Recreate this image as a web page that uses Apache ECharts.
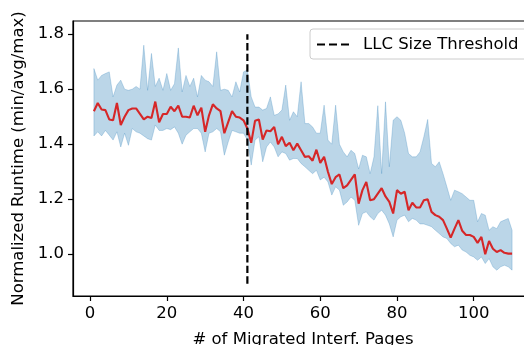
<!DOCTYPE html>
<html>
<head>
<meta charset="utf-8">
<script src="https://cdn.jsdelivr.net/npm/echarts@6/dist/echarts.min.js"></script>
<style>html,body{margin:0;padding:0;background:#fff}#c{width:524px;height:345px}</style>
</head>
<body>
<div id="c"></div>
<script>
const pages = [1,2,3,4,5,6,7,8,9,10,11,12,13,14,15,16,17,18,19,20,21,22,23,24,25,26,27,28,29,30,31,32,33,34,35,36,37,38,39,40,41,42,43,44,45,46,47,48,49,50,51,52,53,54,55,56,57,58,59,60,61,62,63,64,65,66,67,68,69,70,71,72,73,74,75,76,77,78,79,80,81,82,83,84,85,86,87,88,89,90,91,92,93,94,95,96,97,98,99,100,101,102,103,104,105,106,107,108,109,110];
const avgRuntime = [1.52,1.55,1.526,1.524,1.49,1.487,1.55,1.47,1.50,1.524,1.53,1.53,1.51,1.49,1.50,1.495,1.555,1.48,1.51,1.51,1.536,1.52,1.54,1.50,1.50,1.497,1.54,1.505,1.533,1.445,1.505,1.545,1.53,1.52,1.44,1.48,1.52,1.50,1.497,1.487,1.457,1.405,1.485,1.49,1.417,1.45,1.447,1.463,1.40,1.427,1.393,1.405,1.378,1.402,1.378,1.354,1.356,1.34,1.38,1.332,1.354,1.30,1.255,1.28,1.29,1.24,1.25,1.27,1.29,1.184,1.233,1.263,1.196,1.20,1.22,1.24,1.21,1.19,1.148,1.233,1.22,1.227,1.16,1.187,1.17,1.17,1.196,1.20,1.154,1.142,1.136,1.124,1.093,1.06,1.093,1.124,1.085,1.07,1.07,1.063,1.041,1.063,1.0,1.048,1.02,1.008,1.015,1.005,1.002,1.002];
const maxRuntime = [1.675,1.633,1.65,1.657,1.663,1.572,1.615,1.633,1.60,1.596,1.60,1.61,1.60,1.76,1.596,1.73,1.61,1.64,1.596,1.657,1.596,1.62,1.75,1.59,1.65,1.61,1.64,1.572,1.65,1.633,1.627,1.61,1.736,1.596,1.60,1.596,1.572,1.627,1.59,1.663,1.67,1.572,1.535,1.535,1.524,1.53,1.572,1.505,1.51,1.524,1.615,1.487,1.518,1.50,1.627,1.475,1.475,1.463,1.44,1.44,1.542,1.415,1.40,1.542,1.40,1.372,1.354,1.378,1.366,1.31,1.36,1.354,1.293,1.354,1.54,1.293,1.554,1.318,1.487,1.50,1.487,1.44,1.366,1.354,1.354,1.372,1.427,1.49,1.33,1.318,1.336,1.293,1.245,1.196,1.233,1.227,1.22,1.208,1.196,1.196,1.118,1.148,1.142,1.087,1.10,1.093,1.118,1.124,1.13,1.087];
const minRuntime = [1.43,1.445,1.43,1.45,1.433,1.415,1.445,1.39,1.44,1.396,1.457,1.445,1.44,1.43,1.42,1.415,1.47,1.45,1.45,1.457,1.453,1.463,1.44,1.40,1.433,1.445,1.457,1.457,1.44,1.372,1.44,1.445,1.457,1.445,1.36,1.408,1.45,1.445,1.44,1.44,1.415,1.324,1.415,1.427,1.336,1.39,1.408,1.39,1.354,1.372,1.366,1.342,1.348,1.348,1.33,1.318,1.305,1.293,1.305,1.27,1.28,1.263,1.215,1.245,1.233,1.178,1.19,1.208,1.196,1.105,1.148,1.154,1.136,1.124,1.148,1.16,1.142,1.11,1.063,1.124,1.136,1.142,1.118,1.13,1.124,1.11,1.11,1.105,1.10,1.087,1.075,1.063,1.057,1.039,1.027,1.033,1.015,1.008,0.996,0.99,0.978,0.99,0.966,0.984,0.954,0.942,0.954,0.96,0.954,0.942];
const thresholdPage = 41;
const thresholdSpan = [0.893, 1.8];
const xTicks = [0,20,40,60,80,100];
const yTicks = [1.0,1.2,1.4,1.6,1.8];
const thresholdName = 'LLC Size Threshold';

const font = 'DejaVu Sans';
const FS = 16.5;
const bandData = pages.map((p,i)=>[p, minRuntime[i], maxRuntime[i]]);
const avgPts = pages.map((p,i)=>[p, avgRuntime[i]]);
const thrPts = thresholdSpan.map(v=>[thresholdPage, v]);

function renderBand(params, api){
  if (params.dataIndex !== 0) return null;
  const upper = [], lower = [];
  for (let i = 0; i < bandData.length; i++) {
    upper.push(api.coord([bandData[i][0], bandData[i][2]]));
    lower.push(api.coord([bandData[i][0], bandData[i][1]]));
  }
  const pts = upper.concat(lower.reverse());
  return {type:'polygon', shape:{points:pts}, style:{fill:'rgba(31,119,180,0.3)', stroke:'rgba(31,119,180,0.3)', lineWidth:0.8}};
}

const chart = echarts.init(document.getElementById('c'), null, {renderer:'canvas'});
chart.setOption({
  animation:false,
  backgroundColor:'#fff',
  grid:{left:73, top:21, width:460, height:275, outerBoundsMode:'none', containLabel:false,
        show:true, borderColor:'#000', borderWidth:1.2, backgroundColor:'transparent'},
  xAxis:{
    type:'value', min:-4.45, max:115.45,
    name:'# of Migrated Interf. Pages', nameLocation:'middle', nameGap:35,
    nameTextStyle:{fontFamily:font, fontSize:FS, color:'#000'},
    axisLine:{show:true, onZero:false, lineStyle:{color:'#000', width:1.2}},
    axisTick:{show:true, length:5, inside:false, lineStyle:{color:'#000', width:1.2}, customValues:xTicks},
    axisLabel:{fontFamily:font, fontSize:FS, color:'#000', margin:9, customValues:xTicks},
    splitLine:{show:false}
  },
  yAxis:{
    type:'value', min:0.848, max:1.848,
    name:'Normalized Runtime (min/avg/max)', nameLocation:'middle', nameGap:46, nameRotate:90,
    nameTextStyle:{fontFamily:font, fontSize:FS, color:'#000'},
    axisLine:{show:true, onZero:false, lineStyle:{color:'#000', width:1.2}},
    axisTick:{show:true, length:5, inside:false, lineStyle:{color:'#000', width:1.2}, customValues:yTicks},
    axisLabel:{fontFamily:font, fontSize:FS, color:'#000', margin:9, customValues:yTicks, formatter:v=>v.toFixed(1)},
    splitLine:{show:false}
  },
  legend:{
    data:[{name:thresholdName, icon:'path://M0,0h8v2h-8z M12,0h8v2h-8z M24,0h8v2h-8z', itemStyle:{color:'#000'}}],
    left:310, top:29, orient:'vertical',
    padding:[7,16,6,7], itemWidth:32, itemHeight:2.4, itemGap:0,
    backgroundColor:'rgba(255,255,255,0.8)', borderColor:'#ccc', borderWidth:1, borderRadius:3,
    textStyle:{fontFamily:font, fontSize:FS, color:'#000', padding:[0,0,0,9]}
  },
  series:[
    {name:'band', type:'custom', data:bandData, encode:{x:0, y:[1,2]}, renderItem:renderBand, silent:true, z:1, clip:true},
    {name:'avg', type:'line', data:avgPts, symbol:'none', lineStyle:{color:'#d62728', width:2.1}, itemStyle:{color:'#d62728'}, z:3},
    {name:thresholdName, type:'line', data:thrPts, symbol:'none', lineStyle:{color:'#000', width:2.2, type:[7.4,3.2]}, itemStyle:{color:'#000'}, z:4}
  ]
});
</script>
</body>
</html>
